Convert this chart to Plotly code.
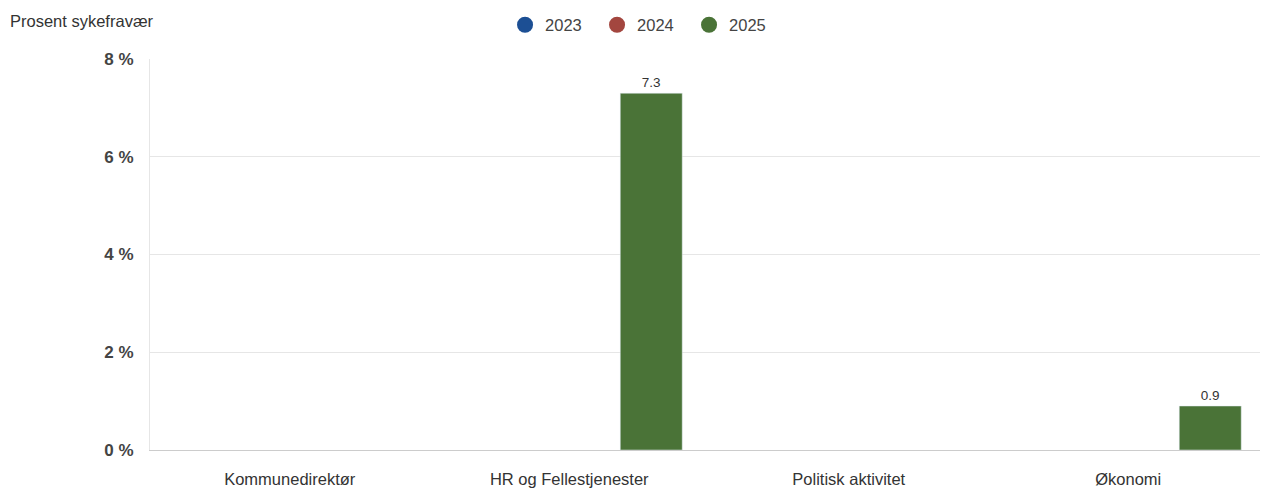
import plotly.graph_objects as go

categories = ["Kommunedirektør", "HR og Fellestjenester", "Politisk aktivitet", "Økonomi"]
series_names = ["2023", "2024", "2025"]
values_2023 = [None, None, None, None]
values_2024 = [None, None, None, None]
values_2025 = [None, 7.3, None, 0.9]
colors = ["#1c4f94", "#a3463f", "#4a7337"]
y_ticks = [0, 2, 4, 6, 8]

W, H = 1260, 480  # page body adds 8px offset

fig = go.Figure()
for name, vals, col in zip(series_names, [values_2023, values_2024, values_2025], colors):
    fig.add_trace(go.Bar(
        x=categories, y=vals, name=name, marker_color=col, showlegend=False,
        text=[("" if v is None else f"{v}") for v in vals],
        textposition="outside", textfont=dict(size=13.5, color="#333333"),
        cliponaxis=False,
    ))
    fig.add_trace(go.Scatter(
        x=[None], y=[None], mode="markers", name=name,
        marker=dict(symbol="circle", size=16, color=col), showlegend=True,
    ))

fig.update_layout(
    width=W, height=H,
    margin=dict(l=142, r=0, t=51, b=36),
    paper_bgcolor="white", plot_bgcolor="white",
    font=dict(family="Liberation Sans, Arial, sans-serif", color="#333333"),
    barmode="group", bargap=0.12, bargroupgap=0.244,
    title=dict(text="Prosent sykefravær", x=2 / W, xanchor="left", xref="container",
               y=1 - 13 / H, yanchor="middle", yref="container",
               font=dict(size=16.5, color="#333333")),
    legend=dict(orientation="h", x=0.504, xanchor="center", xref="container",
                y=1 - 17 / H, yanchor="middle", yref="container",
                font=dict(size=16.5, color="#444444"), itemwidth=30,
                entrywidth=47, tracegroupgap=0),
    xaxis=dict(showgrid=False, showline=True, linecolor="#cccccc", linewidth=1,
               ticks="outside", ticklen=14, tickcolor="rgba(0,0,0,0)",
               tickfont=dict(size=16.5, color="#333333")),
    yaxis=dict(range=[0, 8], tickvals=y_ticks, ticktext=[f"<b>{v} %</b>" for v in y_ticks],
               showgrid=True, gridcolor="#e6e6e6", zeroline=False,
               showline=True, linecolor="#e6e6e6",
               ticks="outside", ticklen=12, tickcolor="rgba(0,0,0,0)",
               tickfont=dict(size=17, color="#444444")),
)

fig.write_html("out.html")
